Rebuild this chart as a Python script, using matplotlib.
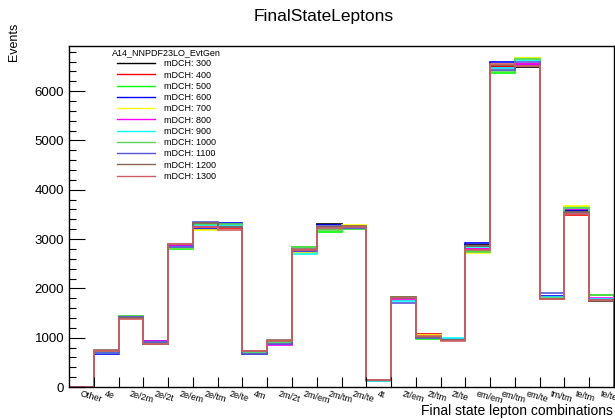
import numpy as np
import matplotlib
matplotlib.use("Agg")
import matplotlib.pyplot as plt
from matplotlib.lines import Line2D

plt.rcParams['font.family'] = ['Liberation Sans', 'DejaVu Sans']

categories = ["Other", "4e", "2e/2m", "2e/2t", "2e/em", "2e/tm", "2e/te", "4m",
              "2m/2t", "2m/em", "2m/tm", "2m/te", "4t", "2t/em", "2t/tm", "2t/te",
              "em/em", "em/tm", "em/te", "tm/tm", "te/tm", "te/te"]

masses = [300, 400, 500, 600, 700, 800, 900, 1000, 1100, 1200, 1300]

m300 = [0, 720, 1420, 880, 2850, 3330, 3290, 700, 900, 2760, 3300, 3260, 140, 1800, 1010, 960, 2880, 6480, 6490, 1820, 3560, 1750]
m400 = [0, 700, 1390, 900, 2840, 3240, 3220, 690, 880, 2750, 3200, 3230, 130, 1790, 1075, 970, 2790, 6500, 6560, 1780, 3480, 1780]
m500 = [0, 715, 1440, 910, 2800, 3305, 3300, 680, 930, 2840, 3150, 3200, 145, 1830, 975, 960, 2760, 6365, 6680, 1810, 3660, 1866]
m600 = [0, 670, 1410, 930, 2860, 3205, 3335, 660, 870, 2730, 3290, 3220, 135, 1780, 990, 950, 2915, 6585, 6520, 1850, 3590, 1790]
m700 = [0, 690, 1400, 890, 2820, 3185, 3265, 700, 890, 2720, 3260, 3285, 150, 1760, 1050, 975, 2710, 6450, 6670, 1800, 3680, 1770]
m800 = [0, 700, 1420, 935, 2860, 3270, 3280, 690, 860, 2780, 3250, 3240, 140, 1770, 1000, 965, 2800, 6470, 6540, 1820, 3600, 1800]
m900 = [0, 695, 1405, 900, 2830, 3280, 3295, 710, 910, 2700, 3220, 3220, 130, 1745, 995, 990, 2830, 6460, 6640, 1830, 3640, 1780]
m1000 = [0, 720, 1430, 905, 2810, 3300, 3300, 680, 920, 2830, 3180, 3210, 150, 1820, 1000, 960, 2740, 6400, 6660, 1810, 3620, 1860]
m1100 = [0, 680, 1410, 915, 2840, 3355, 3250, 665, 880, 2750, 3270, 3230, 145, 1700, 985, 955, 2860, 6430, 6600, 1900, 3520, 1760]
m1200 = [0, 750, 1395, 880, 2890, 3320, 3240, 730, 950, 2790, 3240, 3260, 135, 1830, 1020, 945, 2850, 6520, 6500, 1790, 3550, 1745]
m1300 = [0, 740, 1380, 875, 2895, 3240, 3185, 720, 940, 2770, 3230, 3250, 140, 1810, 1040, 940, 2780, 6540, 6510, 1790, 3500, 1755]

series = [m300, m400, m500, m600, m700, m800, m900, m1000, m1100, m1200, m1300]
colors = ["#000000", "#ff0000", "#00ff00", "#0000ff", "#ffff00", "#ff00ff",
          "#00ffff", "#59d454", "#5954d9", "#876657", "#cf5e61"]

W, H = 615, 419
fig = plt.figure(figsize=(W / 100, H / 100), dpi=100)
ax = fig.add_axes([69 / W, 1 - 387 / H, (614 - 69) / W, (387 - 46) / H])

edges = np.arange(len(categories) + 1)
for vals, col in zip(series, colors):
    ax.stairs(vals, edges, baseline=0, fill=False, color=col, lw=1.2)

ax.set_xlim(0, len(categories))
ax.set_ylim(0, 6915)

# y axis: ticks inside
ax.set_yticks(np.arange(0, 7000, 1000))
ax.set_yticks(np.arange(0, 6915, 200), minor=True)
ax.tick_params(axis='y', which='major', direction='in', length=11.5, width=0.8,
               labelsize=9.5, pad=3.5, right=False)
ax.tick_params(axis='y', which='minor', direction='in', length=5.3, width=0.8, right=False)

# x axis: ticks at bin edges, labels at bin centres
ax.set_xticks(edges[1:-1])
ax.set_xticklabels([])
ax.tick_params(axis='x', which='major', direction='in', length=7.5, width=0.8, top=False)
ax.set_xticks(edges[:-1] + 0.5, minor=True)
ax.set_xticklabels(categories, minor=True, rotation=-16, ha='left', va='top',
                   rotation_mode='anchor', fontsize=6.5)
ax.tick_params(axis='x', which='minor', length=0, pad=1.5, top=False)

for sp in ax.spines.values():
    sp.set_linewidth(1.0)
    sp.set_color("black")

fig.text(324 / W, 1 - 17 / H, "FinalStateLeptons", ha='center', va='center', fontsize=12.5)
fig.text(613 / W, 1 - 411 / H, "Final state lepton combinations", ha='right', va='center', fontsize=10)
fig.text(14 / W, 1 - 42 / H, "Events", rotation=90, ha='center', va='center', fontsize=9)

handles = [Line2D([], [], color=c, lw=1.0) for c in colors]
labels = [f"mDCH: {m}" for m in masses]
leg = fig.legend(handles, labels, loc='upper left', bbox_to_anchor=(112 / W, 1 - 48 / H),
                 frameon=False, fontsize=6.5, title="A14_NNPDF23LO_EvtGen", title_fontsize=6.5,
                 handlelength=4.3, handletextpad=1.0, labelspacing=0.25, borderpad=0,
                 borderaxespad=0)

fig.savefig("out.png", dpi=100)
